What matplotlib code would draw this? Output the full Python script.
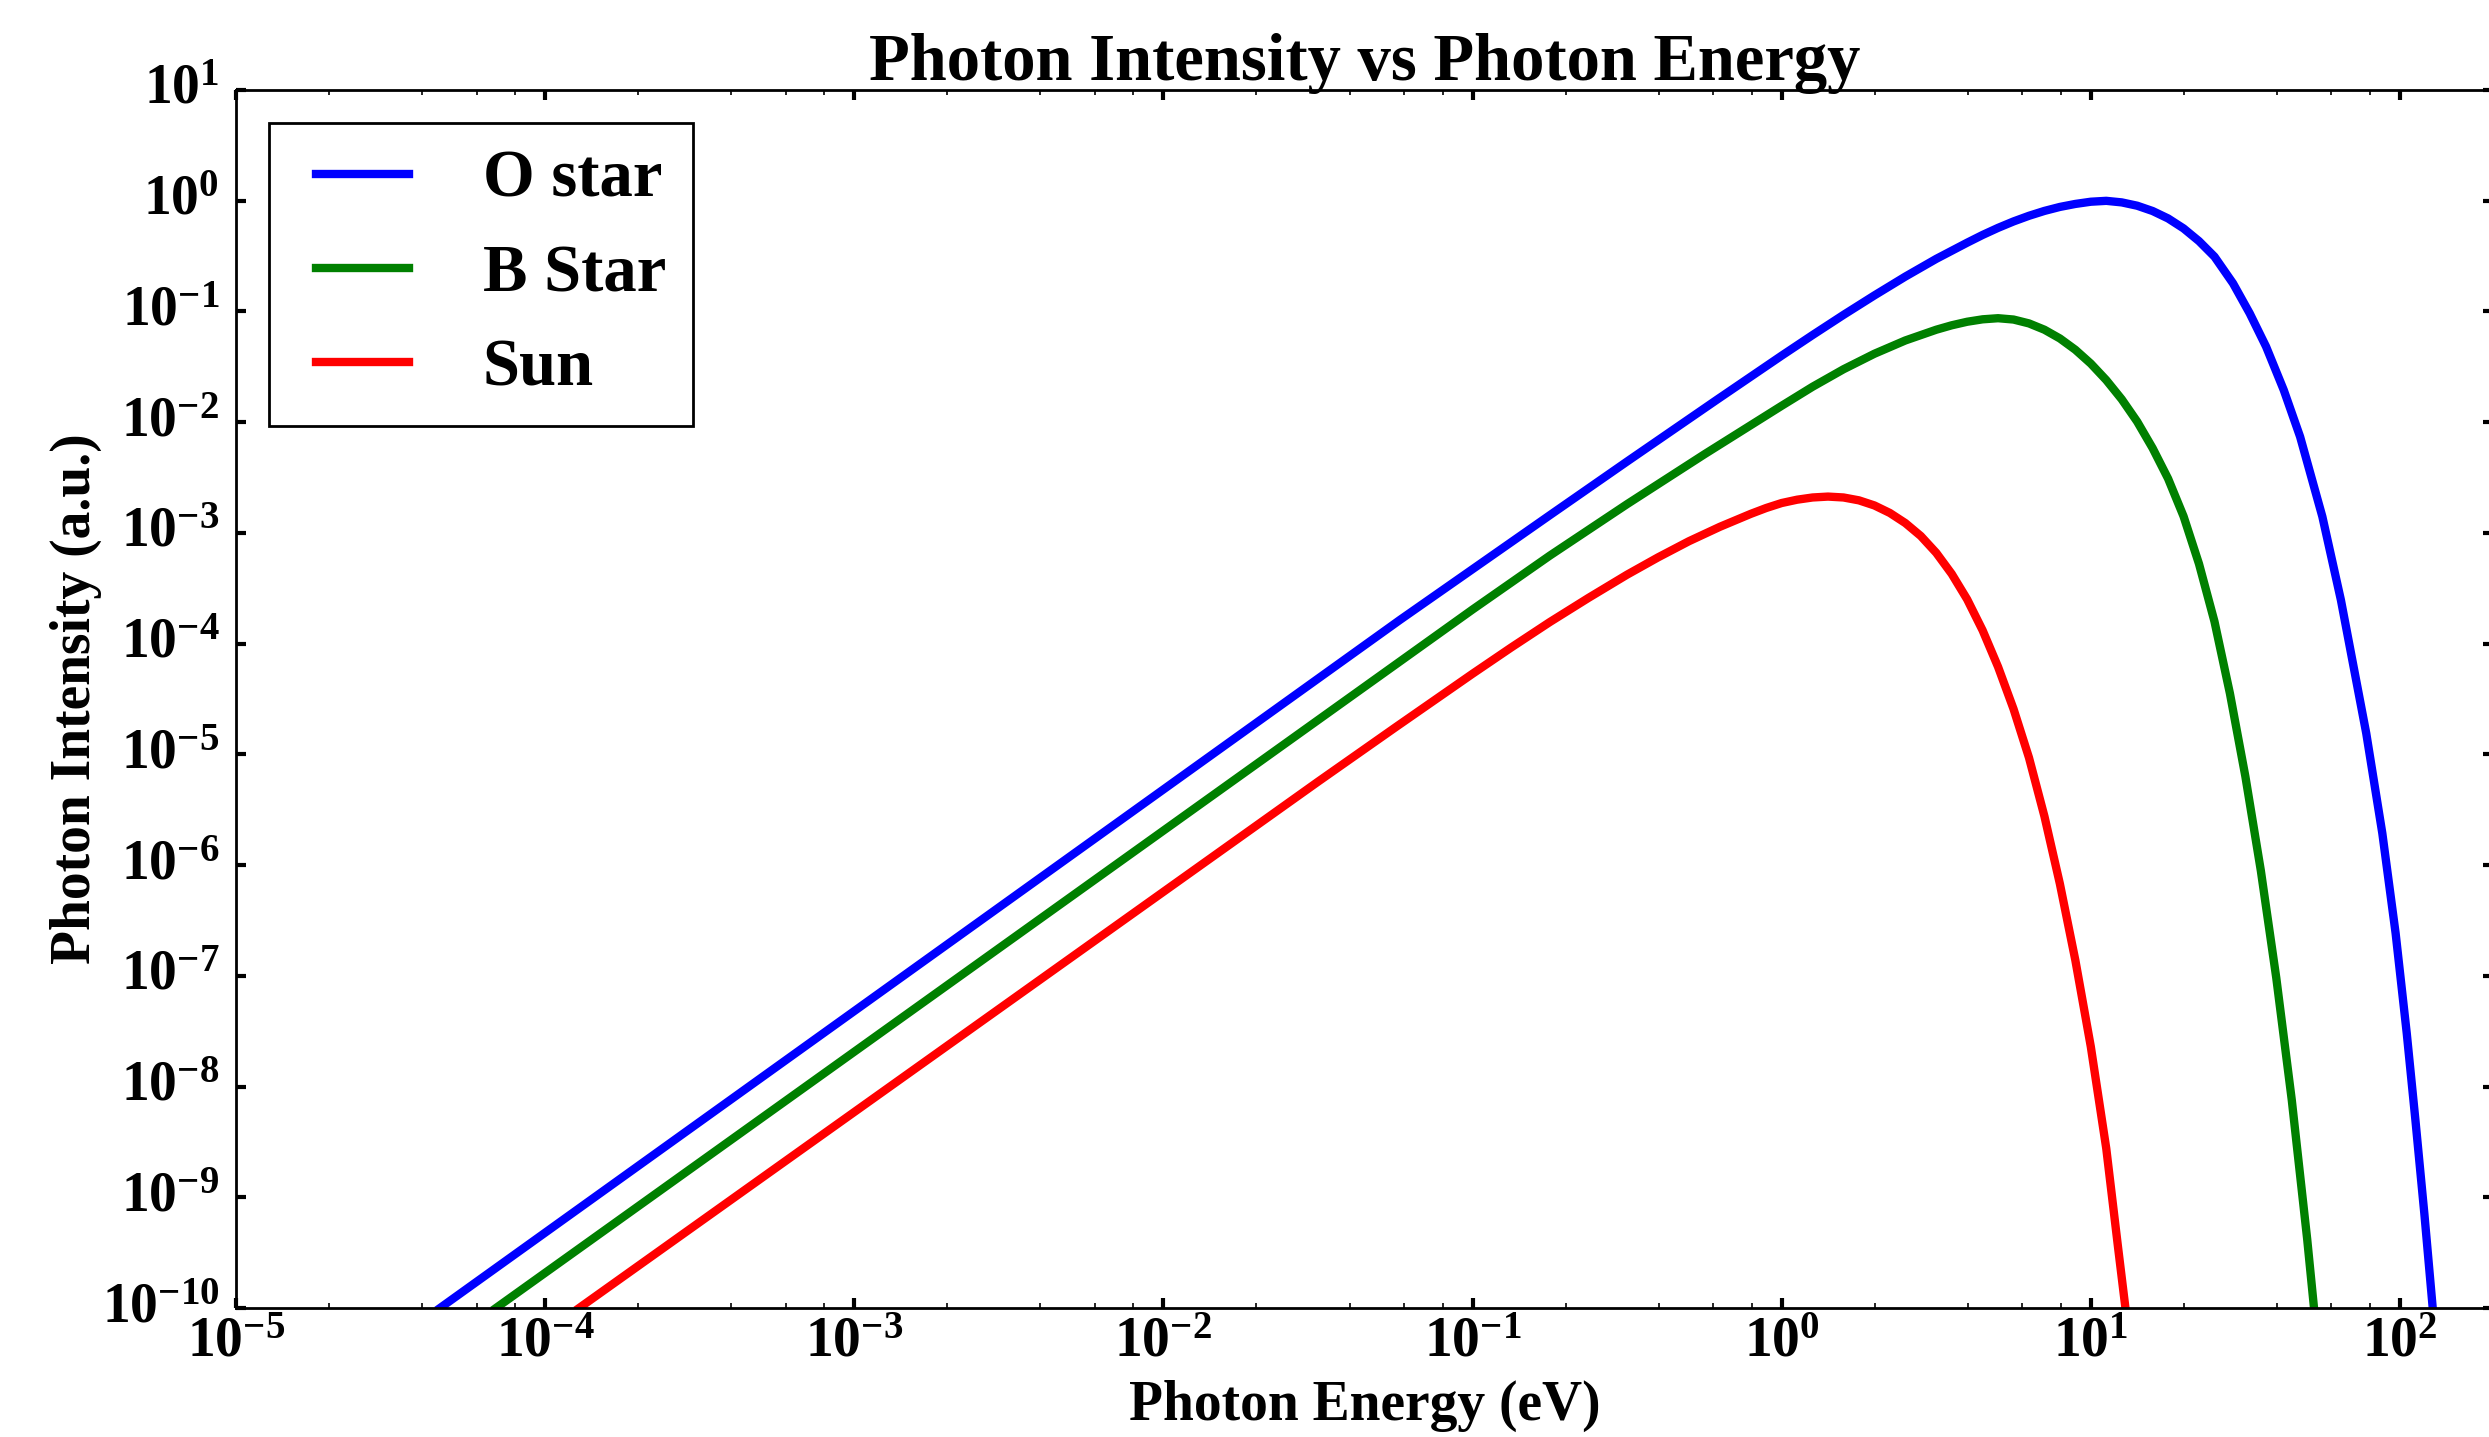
import matplotlib

matplotlib.use("Agg")

import matplotlib.pyplot as plt
import numpy as np
from matplotlib.ticker import FixedLocator, NullLocator

# Values, stored as log10(E / eV) and log10(intensity)
o_star_log_e = [-4.34, -1.235, -0.75, -0.5, -0.211, 0.0, 0.1, 0.2, 0.3, 0.4, 0.5, 0.6,
                0.65, 0.7, 0.75, 0.8, 0.85, 0.9, 0.95, 1.0, 1.05, 1.1, 1.15, 1.2, 1.25,
                1.3, 1.35, 1.4, 1.46, 1.514, 1.567, 1.624, 1.677, 1.749, 1.809, 1.891,
                1.943, 1.986, 2.022, 2.05, 2.079, 2.106]
o_star_log_i = [-10.0, -3.786, -2.84, -2.355, -1.8, -1.399, -1.213, -1.031, -0.855, -0.685,
                -0.525, -0.379, -0.309, -0.245, -0.187, -0.136, -0.092, -0.056, -0.029,
                -0.009, -0.001, -0.015, -0.045, -0.093, -0.16, -0.25, -0.365, -0.505,
                -0.746, -1.017, -1.318, -1.709, -2.131, -2.853, -3.606, -4.81, -5.713,
                -6.616, -7.519, -8.302, -9.15, -10.0]

b_star_log_e = [-4.159, -1.0, -0.75, -0.5, -0.25, 0.0, 0.1, 0.2, 0.3, 0.4, 0.5, 0.55,
                0.6, 0.65, 0.7, 0.75, 0.8, 0.85, 0.9, 0.95, 1.0, 1.05, 1.1, 1.15, 1.2,
                1.25, 1.3, 1.35, 1.4, 1.45, 1.5, 1.55, 1.6, 1.65, 1.7, 1.722]
b_star_log_i = [-10.0, -3.692, -3.205, -2.74, -2.29, -1.852, -1.68, -1.522, -1.382, -1.262,
                -1.165, -1.125, -1.093, -1.071, -1.061, -1.073, -1.108, -1.165, -1.244,
                -1.346, -1.471, -1.62, -1.793, -1.995, -2.235, -2.51, -2.85, -3.28, -3.8,
                -4.45, -5.2, -6.05, -7.02, -8.12, -9.38, -10.0]

sun_log_e = [-3.89, -1.5, -1.25, -1.0, -0.875, -0.75, -0.625, -0.5, -0.4, -0.3, -0.2,
             -0.1, -0.05, 0.0, 0.05, 0.1, 0.15, 0.2, 0.25, 0.3, 0.35, 0.4, 0.45, 0.5,
             0.55, 0.6, 0.65, 0.7, 0.75, 0.8, 0.85, 0.9, 0.95, 1.0, 1.05, 1.088, 1.112]
sun_log_i = [-10.0, -5.247, -4.757, -4.272, -4.035, -3.805, -3.587, -3.377, -3.221, -3.075,
             -2.945, -2.828, -2.775, -2.73, -2.7, -2.68, -2.672, -2.68, -2.706, -2.752,
             -2.82, -2.911, -3.028, -3.18, -3.37, -3.6, -3.88, -4.21, -4.59, -5.03, -5.56,
             -6.17, -6.86, -7.64, -8.56, -9.45, -10.0]

series_labels = ["O star", "B Star", "Sun"]
series_colors = ["b", "g", "r"]

x_exponents = list(range(-5, 3))
y_exponents = list(range(-10, 2))
x_minor_subs = [2, 4, 6, 8]


def sci_label(exp: int) -> str:
    return r"$\mathdefault{10^{%d}}$" % exp


plt.style.use("classic")
plt.rcParams.update({
    "figure.facecolor": "white",
    "savefig.facecolor": "white",
    "font.family": "serif",
    "font.serif": ["Liberation Serif", "DejaVu Serif"],
    "font.weight": "bold",
    "mathtext.fontset": "custom",
    "mathtext.rm": "Liberation Serif:bold",
    "mathtext.bf": "Liberation Serif:bold",
    "mathtext.it": "Liberation Serif:bold:italic",
    "axes.linewidth": 1.0,
})

fig = plt.figure(figsize=(12.445, 7.185), dpi=200)
ax = fig.add_axes([0.09482, 0.08977, 0.90679, 0.84760])

curves = [
    (o_star_log_e, o_star_log_i),
    (b_star_log_e, b_star_log_i),
    (sun_log_e, sun_log_i),
]
for (log_e, log_i), label, color in zip(curves, series_labels, series_colors):
    ax.plot(np.power(10.0, log_e), np.power(10.0, log_i), color=color, linewidth=3,
            label=label, solid_joinstyle="round")

ax.set_xscale("log")
ax.set_yscale("log")
ax.set_xlim(1e-5, 200)
ax.set_ylim(1e-10, 1e1)

ax.xaxis.set_major_locator(FixedLocator([10.0 ** e for e in x_exponents]))
ax.set_xticklabels([sci_label(e) for e in x_exponents])
minor = [m * 10.0 ** e for e in range(-5, 3) for m in x_minor_subs if m * 10.0 ** e < 200]
ax.xaxis.set_minor_locator(FixedLocator(minor))
ax.yaxis.set_major_locator(FixedLocator([10.0 ** e for e in y_exponents]))
ax.set_yticklabels([sci_label(e) for e in y_exponents])
ax.yaxis.set_minor_locator(NullLocator())

ax.tick_params(which="both", direction="in", top=True, right=True, labelsize=20)
ax.tick_params(which="major", length=3.5, width=1.5)
ax.tick_params(which="minor", length=1.8, width=0.6)
ax.tick_params(axis="x", which="major", pad=3)
ax.tick_params(axis="y", which="major", pad=6)

ax.set_title("Photon Intensity vs Photon Energy", fontsize=24, fontweight="bold", pad=3.6)
ax.set_xlabel("Photon Energy (eV)", fontsize=20, fontweight="bold", labelpad=4)
ax.set_ylabel("Photon Intensity (a.u.)", fontsize=20, fontweight="bold", labelpad=0)

ax.legend(loc="upper left", prop={"family": "serif", "weight": "bold", "size": 24},
          numpoints=2, fancybox=False, frameon=True)

fig.savefig("out.png", dpi=200)
plt.close(fig)
